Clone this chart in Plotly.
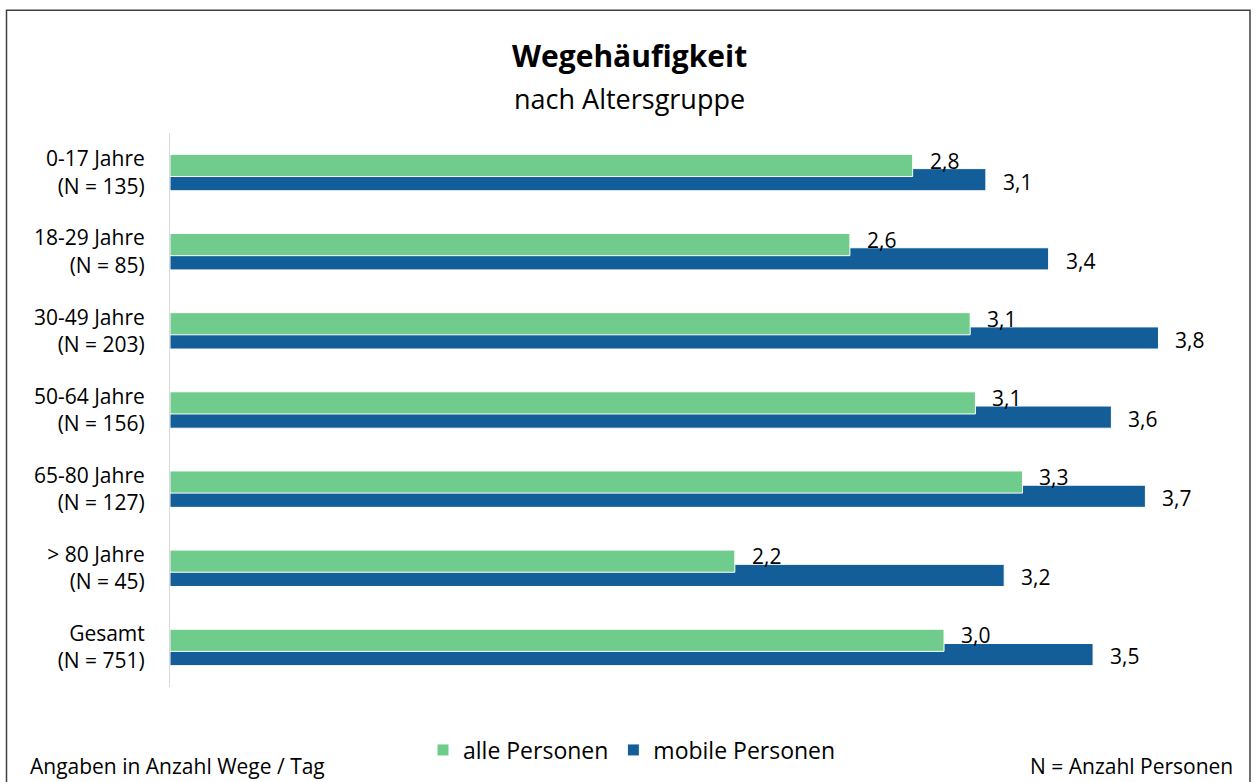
import plotly.graph_objects as go

categories = ["0-17 Jahre<br>(N = 135)", "18-29 Jahre<br>(N = 85)", "30-49 Jahre<br>(N = 203)",
              "50-64 Jahre<br>(N = 156)", "65-80 Jahre<br>(N = 127)", "> 80 Jahre<br>(N = 45)",
              "Gesamt<br>(N = 751)"]
alle_personen = [2.84, 2.60, 3.06, 3.08, 3.26, 2.16, 2.96]
mobile_personen = [3.12, 3.36, 3.78, 3.60, 3.73, 3.19, 3.53]

GREEN = "#70CC8C"
BLUE = "#135E99"
FONT = "Open Sans"

L, T, PW, PH = 170, 133, 1046, 555
W, H = 1256, 782


def px(xp):
    return (xp - L) / PW


def py(yp):
    return (T + PH - yp) / PH


fig = go.Figure()
fig.add_trace(go.Bar(
    y=categories, x=mobile_personen, orientation="h", name="mobile Personen",
    marker=dict(color=BLUE, line=dict(color="white", width=1)),
    width=0.28, offset=-0.05, legendrank=2, hoverinfo="x+name",
))
fig.add_trace(go.Bar(
    y=categories, x=alle_personen, orientation="h", name="alle Personen",
    marker=dict(color=GREEN, line=dict(color="white", width=1)),
    width=0.28, offset=-0.23, legendrank=1, hoverinfo="x+name",
))

annotations = []
for cat, v in zip(categories, alle_personen):
    annotations.append(dict(x=v, y=cat, xref="x", yref="y", text=f"{v:.1f}".replace(".", ","),
                            showarrow=False, xanchor="left", yanchor="middle", xshift=15, yshift=12,
                            font=dict(family=FONT, size=21, color="#000000")))
for cat, v in zip(categories, mobile_personen):
    annotations.append(dict(x=v, y=cat, xref="x", yref="y", text=f"{v:.1f}".replace(".", ","),
                            showarrow=False, xanchor="left", yanchor="middle", xshift=15, yshift=-9,
                            font=dict(family=FONT, size=21, color="#000000")))

annotations += [
    dict(text="<b>Wegehäufigkeit</b>", xref="paper", yref="paper", x=px(629), y=py(55),
         showarrow=False, xanchor="center", yanchor="middle",
         font=dict(family=FONT, size=30, color="#000000")),
    dict(text="nach Altersgruppe", xref="paper", yref="paper", x=px(629), y=py(98),
         showarrow=False, xanchor="center", yanchor="middle",
         font=dict(family=FONT, size=27, color="#000000")),
    dict(text="Angaben in Anzahl Wege / Tag", xref="paper", yref="paper", x=px(28),
         y=py(767), showarrow=False, xanchor="left", yanchor="middle",
         font=dict(family=FONT, size=21, color="#000000")),
    dict(text="N = Anzahl Personen", xref="paper", yref="paper", x=px(1235),
         y=py(767), showarrow=False, xanchor="right", yanchor="middle",
         font=dict(family=FONT, size=21, color="#000000")),
]

fig.update_layout(
    width=W, height=H,
    barmode="overlay",
    paper_bgcolor="white", plot_bgcolor="white",
    margin=dict(l=L, r=W - L - PW, t=T, b=H - T - PH, pad=0),
    font=dict(family=FONT, size=21, color="#000000"),
    showlegend=True,
    legend=dict(orientation="h", x=px(632), y=py(750), xanchor="center", yanchor="middle",
                font=dict(family=FONT, size=23), itemwidth=30, traceorder="normal"),
    annotations=annotations,
    shapes=[dict(type="rect", xref="paper", yref="paper",
                 x0=px(6.5), x1=px(1250), y0=py(800), y1=py(10),
                 line=dict(color="#404040", width=1.5), fillcolor="rgba(0,0,0,0)", layer="below")],
)
fig.update_xaxes(range=[0, 4], showgrid=False, showticklabels=False, zeroline=False, showline=False)
fig.update_yaxes(autorange="reversed", showgrid=False, showline=True, linecolor="#D9D9D9",
                 linewidth=1, ticks="", ticklabelstandoff=20,
                 tickfont=dict(family=FONT, size=21, color="#000000"))

fig.write_html("out.html", config={"displayModeBar": False},
               post_script="document.body.style.margin='0';document.body.style.overflow='hidden';")
